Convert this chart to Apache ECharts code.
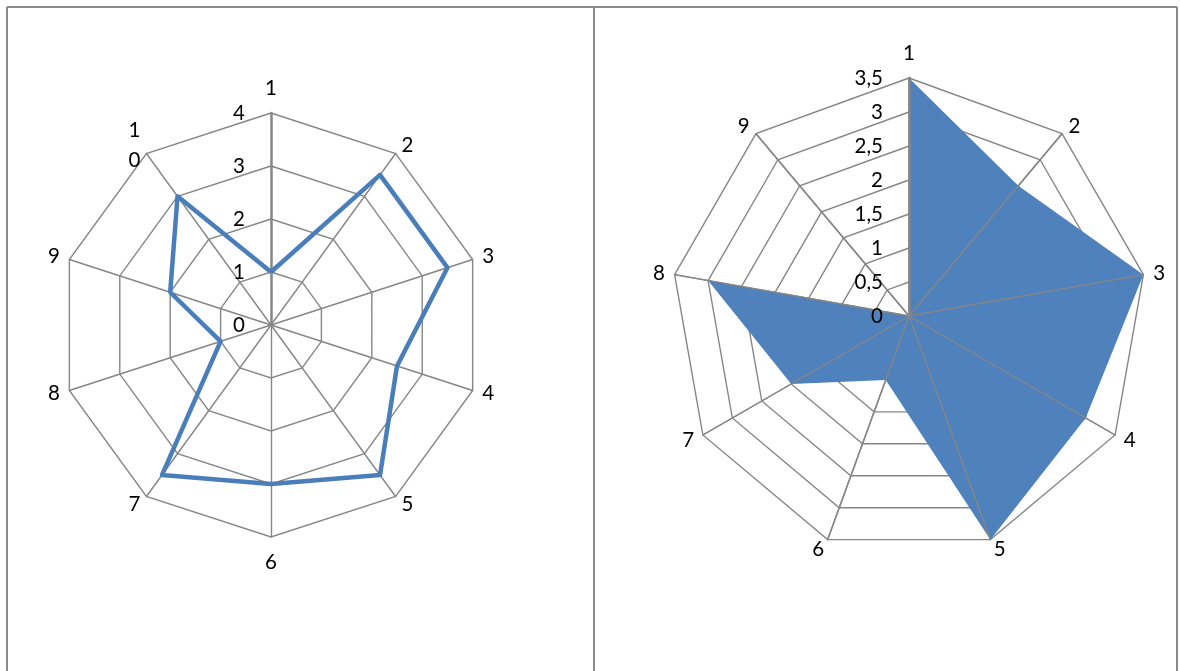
<!DOCTYPE html>
<html>
<head>
<meta charset="utf-8">
<script src="https://cdn.jsdelivr.net/npm/echarts@6/dist/echarts.min.js"></script>
<style>
    html, body { margin: 0; padding: 0; background: #fff; }
    #chart { width: 1180px; height: 671px; }
</style>
</head>
<body>
<div id="chart"></div>
<script>
    // left chart: 10 axes, line only
    var leftNames = ['1', '2', '3', '4', '5', '6', '7', '8', '9', '10'];
    var leftValues = [1, 3.5, 3.5, 2.5, 3.5, 3, 3.5, 1, 2, 3];
    var leftTicks = ['0', '1', '2', '3', '4'];

    // right chart: 9 axes, filled
    var rightNames = ['1', '2', '3', '4', '5', '6', '7', '8', '9'];
    var rightValues = [3.5, 2.5, 3.5, 3, 3.5, 1, 2, 3, 0];
    var rightTicks = ['0', '0,5', '1', '1,5', '2', '2,5', '3', '3,5'];

    var FONT = 'Lato';
    var gridColor = '#868686';

    // radar runs counter-clockwise, so keep the first item and reverse the rest
    function cw(arr) {
        return [arr[0]].concat(arr.slice(1).reverse());
    }

    function indicators(names, max, tickFmt, margin) {
        return cw(names).map(function (n, i) {
            var ind = {name: n, max: max, min: 0};
            if (i === 0) {
                ind.axisLine = {lineStyle: {color: gridColor, width: 2.5}};
                if (tickFmt) {
                    ind.axisLabel = {
                        show: true, color: '#000', fontSize: 20.5, fontFamily: FONT,
                        margin: margin, formatter: tickFmt, hideOverlap: false
                    };
                }
            }
            return ind;
        });
    }

    var myChart = echarts.init(document.getElementById('chart'), null, {renderer: 'canvas'});

    var nameStyle = {color: '#000', fontSize: 20.5, fontFamily: FONT, lineHeight: 30};

    var option = {
        animation: false,
        graphic: [
            {type: 'line', shape: {x1: 7, y1: 7, x2: 1177, y2: 7}, style: {stroke: '#8a8a8a', lineWidth: 2}},
            {type: 'line', shape: {x1: 7, y1: 7, x2: 7, y2: 671}, style: {stroke: '#8a8a8a', lineWidth: 2}},
            {type: 'line', shape: {x1: 594, y1: 7, x2: 594, y2: 671}, style: {stroke: '#8a8a8a', lineWidth: 2}},
            {type: 'line', shape: {x1: 1177, y1: 7, x2: 1177, y2: 671}, style: {stroke: '#8a8a8a', lineWidth: 2}}
        ],
        radar: [{
            // left
            center: [271, 325],
            radius: 212,
            shape: 'polygon',
            splitNumber: 4,
            nameGap: 10,
            axisName: {
                formatter: function (n) { return n === '10' ? '1\n0' : n; },
                ...nameStyle
            },
            indicator: indicators(leftNames, 4, function (v) { return leftTicks[Math.round(v)]; }, 26),
            axisLine: {lineStyle: {color: gridColor, width: 1.4}},
            splitLine: {lineStyle: {color: gridColor, width: 1.4}},
            splitArea: {show: false},
            axisLabel: {show: false},
            z: 1
        }, {
            // right, grid underneath the fill
            center: [909, 316],
            radius: 238,
            shape: 'polygon',
            splitNumber: 7,
            nameGap: 10,
            axisName: nameStyle,
            indicator: indicators(rightNames, 3.5, null, 0),
            axisLine: {lineStyle: {color: gridColor, width: 1.4}},
            splitLine: {lineStyle: {color: gridColor, width: 1.4}},
            splitArea: {show: false},
            axisLabel: {show: false},
            z: 1
        }, {
            // right, spokes and tick labels above the fill
            center: [909, 316],
            radius: 238,
            shape: 'polygon',
            splitNumber: 7,
            axisName: {show: false},
            indicator: indicators(rightNames, 3.5, function (v) { return rightTicks[Math.round(v / 0.5)]; }, 26),
            axisLine: {lineStyle: {color: gridColor, width: 1.4}},
            splitLine: {show: false},
            splitArea: {show: false},
            axisLabel: {show: false},
            z: 3
        }],
        series: [{
            name: 'left',
            type: 'radar',
            radarIndex: 0,
            symbol: 'none',
            z: 2,
            lineStyle: {color: '#4a7ebb', width: 4.5},
            data: [{value: cw(leftValues)}]
        }, {
            name: 'right',
            type: 'radar',
            radarIndex: 1,
            symbol: 'none',
            z: 2,
            lineStyle: {width: 0},
            areaStyle: {color: '#4f81bd', opacity: 1},
            data: [{value: cw(rightValues)}]
        }]
    };

    myChart.setOption(option);
</script>
</body>
</html>
